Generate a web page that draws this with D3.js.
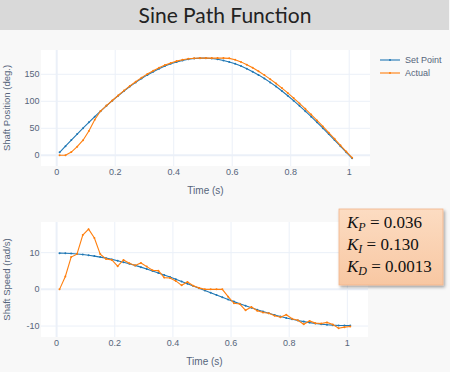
<!DOCTYPE html>
<html>
<head>
<meta charset="utf-8">
<script src="https://cdn.jsdelivr.net/npm/d3@7"></script>
<style>
  body { margin: 0; background: #f8f8f8; }
  svg { display: block; }
</style>
</head>
<body>
<svg id="chart" width="450" height="372"></svg>
<script>
////////// Data //////////
const time = [0.01, 0.03, 0.05, 0.07, 0.09, 0.11, 0.13, 0.15, 0.17, 0.19,
  0.21, 0.23, 0.25, 0.27, 0.29, 0.31, 0.33, 0.35, 0.37, 0.39,
  0.41, 0.43, 0.45, 0.47, 0.49, 0.51, 0.53, 0.55, 0.57, 0.59,
  0.61, 0.63, 0.65, 0.67, 0.69, 0.71, 0.73, 0.75, 0.77, 0.79,
  0.81, 0.83, 0.85, 0.87, 0.89, 0.91, 0.93, 0.95, 0.97, 0.99, 1.01];

const positionSetPoint = [5.6, 16.9, 28.2, 39.3, 50.2, 61.0, 71.5, 81.7, 91.6, 101.2,
  110.3, 119.0, 127.3, 135.0, 142.2, 148.9, 154.9, 160.4, 165.2, 169.4,
  172.9, 175.7, 177.8, 179.2, 179.9, 179.9, 179.2, 177.8, 175.7, 172.9,
  169.4, 165.2, 160.4, 154.9, 148.9, 142.2, 135.0, 127.3, 119.0, 110.3,
  101.2, 91.6, 81.7, 71.5, 61.0, 50.2, 39.3, 28.2, 16.9, 5.6, -5.6];

const positionActual = [0, 0, 6, 16, 28, 45, 66, 82, 92, 101.5,
  110.8, 119.8, 128.3, 136.3, 143.8, 150.6, 156.7, 162.2, 167.0, 171.0,
  174.4, 177.0, 178.8, 179.6, 180, 180, 180, 180, 180, 179.5,
  177, 173, 167.5, 162, 155.5, 148.5, 141, 133, 124.5, 115.5,
  106, 96, 86, 75.5, 64.5, 53.5, 42, 30.5, 18.5, 7, -4.5];

const speedSetPoint = [9.86, 9.83, 9.75, 9.63, 9.48, 9.29, 9.06, 8.79, 8.50, 8.16,
  7.80, 7.40, 6.98, 6.53, 6.05, 5.55, 5.02, 4.48, 3.92, 3.34,
  2.75, 2.15, 1.54, 0.93, 0.31, -0.31, -0.93, -1.54, -2.15, -2.75,
  -3.34, -3.92, -4.48, -5.02, -5.55, -6.05, -6.53, -6.98, -7.40, -7.80,
  -8.16, -8.50, -8.79, -9.06, -9.29, -9.48, -9.63, -9.75, -9.83, -9.86, -9.86];

const speedActual = [0, 3.5, 8.8, 9.6, 14.8, 16.4, 14.0, 9.6, 8.3, 8.0,
  6.3, 8.0, 7.1, 6.5, 7.2, 6.2, 5.2, 5.1, 3.2, 3.1,
  2.3, 1.1, 2.0, 1.0, 0.4, 0, 0, 0, 0, -2.0,
  -3.8, -4.0, -5.7, -4.8, -5.8, -6.3, -6.5, -7.2, -7.6, -6.9,
  -8.0, -8.4, -9.5, -8.6, -9.2, -9.3, -9.0, -9.6, -10.6, -10.3, -10.1];

const timeTicks = [0, 0.2, 0.4, 0.6, 0.8, 1];
const positionTicks = [0, 50, 100, 150];
const speedTicks = [-10, 0, 10];
const seriesNames = ['Set Point', 'Actual'];
const gains = [['P', '0.036'], ['I', '0.130'], ['D', '0.0013']];

////////// Styling //////////
const colors = ['#1f77b4', '#ff7f0e'];
const gridColor = '#ebf0f8';
const textColor = '#56657b';
const axisFont = '"Liberation Sans", Arial, sans-serif';

const svg = d3.select('#chart');

// title bar
svg.append('rect').attr('x', 0).attr('y', 0).attr('width', 449).attr('height', 30).attr('fill', '#d9d9d9');
svg.append('text')
  .attr('x', 225).attr('y', 23)
  .attr('text-anchor', 'middle')
  .style('font', '21px Lato, "Open Sans", sans-serif')
  .attr('fill', '#222')
  .text('Sine Path Function');

function drawPanel(cfg) {
  const x = d3.scaleLinear().domain([-0.0537, 1.0711]).range([cfg.left, cfg.right]);
  const y = d3.scaleLinear().domain(cfg.yDomain).range([cfg.bottom, cfg.top]);
  const g = svg.append('g');

  g.append('rect')
    .attr('x', cfg.left).attr('y', cfg.top)
    .attr('width', cfg.right - cfg.left).attr('height', cfg.bottom - cfg.top)
    .attr('fill', '#fff');

  // grid
  g.selectAll('.vgrid').data(timeTicks).join('line')
    .attr('x1', d => x(d)).attr('x2', d => x(d))
    .attr('y1', cfg.top).attr('y2', cfg.bottom)
    .attr('stroke', gridColor).attr('stroke-width', d => d === 0 ? 2 : 1);
  g.selectAll('.hgrid').data(cfg.yTicks).join('line')
    .attr('x1', cfg.left).attr('x2', cfg.right)
    .attr('y1', d => y(d)).attr('y2', d => y(d))
    .attr('stroke', gridColor).attr('stroke-width', d => d === 0 ? 2 : 1);

  // tick labels
  g.selectAll('.xlab').data(timeTicks).join('text')
    .attr('x', d => x(d)).attr('y', cfg.bottom + 9)
    .attr('text-anchor', 'middle')
    .style('font', '9px ' + axisFont).attr('fill', textColor)
    .text(d => String(d));
  g.selectAll('.ylab').data(cfg.yTicks).join('text')
    .attr('x', cfg.left - 1.5).attr('y', d => y(d) + 3)
    .attr('text-anchor', 'end')
    .style('font', '9px ' + axisFont).attr('fill', textColor)
    .text(d => String(d));

  // axis titles
  g.append('text')
    .attr('x', (cfg.left + cfg.right) / 2).attr('y', cfg.bottom + 28)
    .attr('text-anchor', 'middle')
    .style('font', '10px ' + axisFont).attr('fill', textColor)
    .text('Time (s)');
  g.append('text')
    .attr('transform', `translate(9.5, ${(cfg.top + cfg.bottom) / 2}) rotate(-90)`)
    .attr('text-anchor', 'middle')
    .style('font', '9.5px ' + axisFont).attr('fill', textColor)
    .text(cfg.yTitle);

  // series
  const line = d3.line().x((d, i) => x(time[i])).y(d => y(d));
  cfg.series.forEach((vals, k) => {
    g.append('path').datum(vals)
      .attr('d', line)
      .attr('fill', 'none')
      .attr('stroke', colors[k]).attr('stroke-width', 1.1);
    g.append('g').selectAll('circle').data(vals).join('circle')
      .attr('cx', (d, i) => x(time[i])).attr('cy', d => y(d))
      .attr('r', 1).attr('fill', colors[k]);
  });
}

drawPanel({
  left: 41, right: 370, top: 50, bottom: 166,
  yDomain: [-19.8, 195], yTicks: positionTicks,
  yTitle: 'Shaft Position (deg.)',
  series: [positionSetPoint, positionActual]
});

drawPanel({
  left: 41, right: 368, top: 222, bottom: 337,
  yDomain: [-12.98, 18.35], yTicks: speedTicks,
  yTitle: 'Shaft Speed (rad/s)',
  series: [speedSetPoint, speedActual]
});

// legend
const legend = svg.append('g').attr('transform', 'translate(380, 60)');
seriesNames.forEach((name, k) => {
  const row = legend.append('g').attr('transform', `translate(0, ${k * 13})`);
  row.append('line').attr('x1', 0).attr('x2', 20).attr('y1', 0).attr('y2', 0)
    .attr('stroke', colors[k]).attr('stroke-width', 1.1);
  row.append('circle').attr('cx', 10).attr('cy', 0).attr('r', 1).attr('fill', colors[k]);
  row.append('text').attr('x', 25).attr('y', 3)
    .style('font', '9px ' + axisFont).attr('fill', textColor)
    .text(name);
});

// gains box
const defs = svg.append('defs');
const grad = defs.append('linearGradient').attr('id', 'peach').attr('x1', 0).attr('y1', 0).attr('x2', 0).attr('y2', 1);
grad.append('stop').attr('offset', '0%').attr('stop-color', '#fcdcc2');
grad.append('stop').attr('offset', '100%').attr('stop-color', '#f8c7a2');
const shadow = defs.append('filter').attr('id', 'shadow').attr('x', '-20%').attr('y', '-20%').attr('width', '140%').attr('height', '140%');
shadow.append('feDropShadow').attr('dx', 1.5).attr('dy', 2).attr('stdDeviation', 1.5).attr('flood-color', '#000').attr('flood-opacity', 0.35);

const box = svg.append('g');
box.append('rect')
  .attr('x', 339).attr('y', 209).attr('width', 104).attr('height', 76)
  .attr('fill', 'url(#peach)').attr('stroke', '#f2b48a').attr('stroke-width', 0.8)
  .attr('filter', 'url(#shadow)');
gains.forEach(([sub, val], i) => {
  const t = box.append('text')
    .attr('x', 347).attr('y', 228 + i * 22)
    .style('font-family', '"Liberation Serif", "DejaVu Serif", serif')
    .style('font-size', '17px')
    .attr('fill', '#111');
  t.append('tspan').style('font-style', 'italic').text('K');
  t.append('tspan').style('font-style', 'italic').style('font-size', '12px').attr('dy', 3).text(sub);
  t.append('tspan').attr('dy', -3).text(' = ' + val);
});
</script>
</body>
</html>
